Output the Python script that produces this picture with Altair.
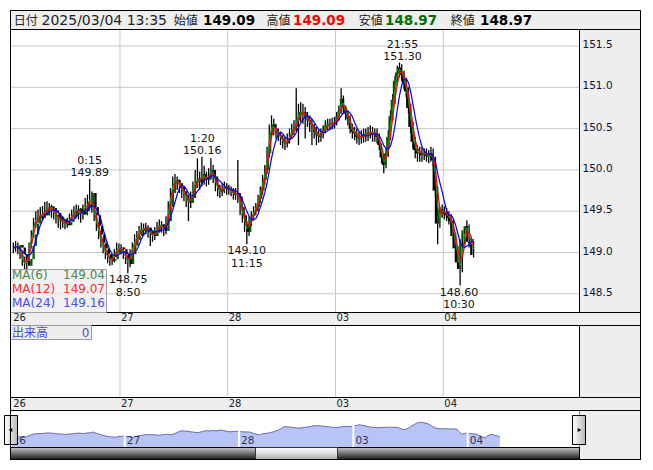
import altair as alt
import pandas as pd

W, H = 653, 470

# ---------------- data ----------------
# 30-minute USD/JPY bars; each trading day starts at 07:00 JST
day_labels = ["26", "27", "28", "03", "04"]
first_open = 149.06

close_26 = [149.05, 149.09, 149.06, 148.98, 148.90, 148.84, 148.92, 149.08, 149.22, 149.35, 149.44, 149.42,
            149.47, 149.45, 149.52, 149.56, 149.54, 149.51, 149.48, 149.43, 149.38, 149.40, 149.35, 149.33,
            149.37, 149.41, 149.46, 149.50, 149.53, 149.49, 149.46, 149.50, 149.58, 149.55, 149.72, 149.55,
            149.45, 149.32, 149.22, 149.12, 149.05, 148.98, 148.93, 148.90, 148.92, 148.99, 149.05, 149.06]
high_26 = [149.12, 149.14, 149.12, 149.08, 149.00, 148.95, 148.98, 149.12, 149.27, 149.42, 149.50, 149.52,
           149.55, 149.56, 149.61, 149.62, 149.60, 149.58, 149.55, 149.50, 149.46, 149.45, 149.44, 149.40,
           149.42, 149.47, 149.52, 149.56, 149.58, 149.57, 149.54, 149.58, 149.66, 149.70, 149.89, 149.74,
           149.58, 149.48, 149.36, 149.26, 149.16, 149.10, 149.02, 148.96, 148.97, 149.04, 149.12, 149.11]
low_26 = [148.99, 149.01, 148.98, 148.92, 148.84, 148.79, 148.80, 148.90, 149.05, 149.18, 149.30, 149.36,
          149.38, 149.40, 149.42, 149.47, 149.45, 149.42, 149.40, 149.35, 149.30, 149.28, 149.30, 149.28,
          149.30, 149.33, 149.38, 149.42, 149.44, 149.40, 149.36, 149.40, 149.46, 149.45, 149.52, 149.48,
          149.38, 149.26, 149.16, 149.06, 148.99, 148.92, 148.87, 148.84, 148.85, 148.88, 148.95, 149.00]

close_27 = [149.04, 148.98, 148.93, 148.86, 148.98, 149.08, 149.15, 149.20, 149.26, 149.30, 149.27, 149.30,
            149.26, 149.22, 149.20, 149.25, 149.30, 149.34, 149.31, 149.26, 149.38, 149.55, 149.72, 149.86,
            149.88, 149.84, 149.80, 149.74, 149.70, 149.64, 149.60, 149.66, 149.78, 149.86, 149.90, 149.85,
            149.95, 149.90, 149.88, 149.95, 150.00, 149.92, 149.82, 149.76, 149.74, 149.78, 149.80, 149.77]
high_27 = [149.10, 149.06, 149.00, 148.96, 149.04, 149.12, 149.22, 149.26, 149.32, 149.36, 149.35, 149.36,
           149.33, 149.30, 149.27, 149.31, 149.37, 149.40, 149.38, 149.34, 149.44, 149.62, 149.78, 149.92,
           149.95, 149.92, 149.88, 149.83, 149.78, 149.74, 149.68, 149.74, 149.86, 150.00, 150.14, 149.98,
           150.16, 150.05, 149.98, 150.02, 150.14, 150.06, 149.95, 149.86, 149.80, 149.84, 149.86, 149.84]
low_27 = [148.98, 148.92, 148.86, 148.75, 148.82, 148.94, 149.04, 149.10, 149.16, 149.22, 149.20, 149.22,
          149.18, 149.08, 149.13, 149.15, 149.20, 149.24, 149.24, 149.20, 149.22, 149.34, 149.50, 149.68,
          149.80, 149.76, 149.72, 149.66, 149.62, 149.55, 149.38, 149.54, 149.62, 149.72, 149.80, 149.76,
          149.80, 149.82, 149.80, 149.82, 149.90, 149.84, 149.74, 149.68, 149.66, 149.68, 149.72, 149.70]

close_28 = [149.76, 149.74, 149.70, 149.72, 149.68, 149.55, 149.45, 149.34, 149.25, 149.38, 149.45, 149.50,
            149.55, 149.65, 149.75, 149.88, 150.00, 150.20, 150.45, 150.55, 150.50, 150.45, 150.42, 150.38,
            150.33, 150.32, 150.36, 150.42, 150.48, 150.52, 150.60, 150.70, 150.68, 150.70, 150.64, 150.60,
            150.55, 150.52, 150.46, 150.42, 150.40, 150.44, 150.48, 150.54, 150.56, 150.55, 150.57, 150.58]
high_28 = [149.82, 149.80, 149.78, 149.78, 150.12, 149.72, 149.58, 149.48, 149.38, 149.44, 149.50, 149.56,
           149.60, 149.70, 149.80, 149.94, 150.06, 150.28, 150.55, 150.66, 150.62, 150.56, 150.50, 150.46,
           150.42, 150.40, 150.44, 150.50, 150.56, 150.60, 150.99, 150.80, 150.82, 150.80, 150.76, 150.70,
           150.66, 150.62, 150.56, 150.52, 150.48, 150.50, 150.54, 150.60, 150.62, 150.62, 150.63, 150.64]
low_28 = [149.70, 149.68, 149.64, 149.64, 149.60, 149.45, 149.36, 149.25, 149.10, 149.20, 149.32, 149.40,
          149.45, 149.50, 149.60, 149.70, 149.82, 149.95, 150.15, 150.40, 150.42, 150.38, 150.35, 150.30,
          150.26, 150.24, 150.27, 150.32, 150.38, 150.42, 150.46, 150.30, 150.58, 150.56, 150.38, 150.52,
          150.46, 150.30, 150.38, 150.30, 150.33, 150.34, 150.38, 150.44, 150.48, 150.48, 150.49, 150.50]

close_03 = [150.65, 150.72, 150.86, 150.75, 150.68, 150.62, 150.50, 150.46, 150.44, 150.40, 150.38, 150.40,
            150.43, 150.42, 150.45, 150.46, 150.43, 150.44, 150.40, 150.30, 150.15, 150.06, 150.20, 150.40,
            150.65, 150.85, 151.08, 151.18, 151.24, 151.15, 151.05, 150.95, 150.75, 150.52, 150.34, 150.24,
            150.20, 150.22, 150.18, 150.20, 150.17, 150.16, 150.20, 150.12, 149.75, 149.35, 149.48, 149.52]
high_03 = [150.70, 150.78, 150.99, 150.90, 150.78, 150.72, 150.66, 150.56, 150.52, 150.50, 150.46, 150.48,
           150.50, 150.50, 150.52, 150.54, 150.52, 150.50, 150.50, 150.44, 150.32, 150.20, 150.26, 150.48,
           150.72, 150.92, 151.14, 151.26, 151.30, 151.28, 151.20, 151.10, 151.00, 150.80, 150.58, 150.40,
           150.30, 150.28, 150.28, 150.26, 150.26, 150.24, 150.28, 150.26, 150.16, 149.80, 149.55, 149.58]
low_03 = [150.54, 150.60, 150.68, 150.68, 150.60, 150.54, 150.44, 150.38, 150.36, 150.32, 150.30, 150.32,
          150.33, 150.34, 150.35, 150.38, 150.34, 150.34, 150.32, 150.24, 150.08, 149.96, 150.02, 150.16,
          150.36, 150.60, 150.80, 151.02, 151.12, 151.08, 150.98, 150.88, 150.68, 150.44, 150.26, 150.14,
          150.10, 150.10, 150.10, 150.12, 150.10, 150.08, 150.10, 150.04, 149.68, 149.10, 149.30, 149.42]

close_04 = [149.48, 149.45, 149.42, 149.38, 149.20, 149.05, 148.88, 148.80, 149.16, 149.27, 149.32, 149.13,
            149.11, 148.97]
high_04 = [149.56, 149.54, 149.50, 149.46, 149.40, 149.24, 149.08, 148.92, 149.20, 149.32, 149.39, 149.34,
           149.18, 149.14]
low_04 = [149.40, 149.38, 149.34, 149.30, 149.14, 148.98, 148.82, 148.60, 148.76, 149.10, 149.20, 149.06,
          149.04, 148.94]

# moving averages; periods are 5-minute bars, windows are the 30-minute equivalents
ma_names = ["MA(6)", "MA(12)", "MA(24)"]
ma_bars = [2, 3, 6]

# labelled highs and lows: trading day index, clock time, price
ann_day = [0, 1, 2, 3, 1, 4]
ann_clock = ["0:15", "1:20", "11:15", "21:55", "8:50", "10:30"]
ann_price = [149.89, 150.16, 149.10, 151.30, 148.75, 148.60]
ann_side = ["high", "high", "low", "high", "low", "low"]

price_ticks = [148.5, 149.0, 149.5, 150.0, 150.5, 151.0, 151.5]

quote_stamp = "2025/03/04 13:35"
quote_names = ["始値", "高値", "安値", "終値"]
quote_values = [149.09, 149.09, 148.97, 148.97]
volume_name = "出来高"
volume_value = 0

# ---------------- styles ----------------
FONT = "DejaVu Sans"
CJK = "Noto Sans CJK JP"
ma_colors = ["#1a8c1a", "#ff0000", "#0000ff"]
ma_text_colors = ["#4d8a4d", "#ff2a2a", "#4b4bff"]
quote_colors = ["#000000", "#ff0000", "#007000", "#000000"]
GRID = "#c8c8c8"
PANEL = "#eeeeee"

# ---------------- layout (pixels) ----------------
LEFT, RIGHT, PLOT_R = 10.5, 640.5, 579.5
TOP, HEAD_B, MAIN_B, STRIP1_B = 10.5, 29.5, 312.5, 325.5
VOL_B, STRIP2_B, NAV_B, BOTTOM = 397.5, 410.5, 447.5, 459.5

DAY0_X, DAY_W = 12.2, 107.77          # main time axis
PX_H = DAY_W / 24
P_REF, P_REF_Y, PX_YEN = 151.0, 87.3, 82.6   # main price axis
NAV0_X, NAV_DAY_W = 10.5, 114.3       # navigator time axis
NPX_H = NAV_DAY_W / 24
NAV_BASE, NAV_PX_YEN = 147.28, 6.4    # navigator value axis

x_main = alt.Scale(domain=[-DAY0_X / PX_H, (W - DAY0_X) / PX_H], nice=False, zero=False)
y_price = alt.Scale(domain=[P_REF - (H - P_REF_Y) / PX_YEN, P_REF + P_REF_Y / PX_YEN], nice=False, zero=False)
x_nav = alt.Scale(domain=[-NAV0_X / NPX_H, (W - NAV0_X) / NPX_H], nice=False, zero=False)
y_nav = alt.Scale(domain=[NAV_BASE - (H - NAV_B) / NAV_PX_YEN, NAV_BASE + NAV_B / NAV_PX_YEN],
                  nice=False, zero=False)
x_px = alt.Scale(domain=[0, W], nice=False, zero=False)
y_px = alt.Scale(domain=[0, H], reverse=True, nice=False, zero=False)


def qx(field, scale):
    return alt.X(field, type="quantitative", scale=scale, axis=None)


def qy(field, scale):
    return alt.Y(field, type="quantitative", scale=scale, axis=None)


# ---------------- tables ----------------
closes = close_26 + close_27 + close_28 + close_03 + close_04
highs = high_26 + high_27 + high_28 + high_03 + high_04
lows = low_26 + low_27 + low_28 + low_03 + low_04
bars = pd.DataFrame({"i": range(len(closes)), "close": closes, "high": highs, "low": lows})
bars["open"] = [first_open] + closes[:-1]
bars["high"] = bars[["high", "open", "close"]].max(axis=1)
bars["low"] = bars[["low", "open", "close"]].min(axis=1)
bars["h"] = bars["i"] * 0.5 + 0.25
bars["dir"] = ["up" if c >= o else "down" for o, c in zip(bars["open"], bars["close"])]

ma_last = [bars["close"].rolling(n, min_periods=1).mean().iloc[-1] for n in ma_bars]


def clock_hours(day, clock):
    hh, mm = (int(v) for v in clock.split(":"))
    if hh < 7:
        hh += 24
    return day * 24 + hh - 7 + mm / 60


ann = pd.DataFrame({
    "h": [clock_hours(d, c) for d, c in zip(ann_day, ann_clock)],
    "price": ann_price,
    "label": [f"{p:.2f}" for p in ann_price],
    "clock": ann_clock,
    "side": ann_side,
})

days = pd.DataFrame({"h": [24.0 * k for k in range(len(day_labels))], "label": day_labels})
inner_days = days[days["h"] > 0]
ticks = pd.DataFrame({"v": price_ticks})
one = pd.DataFrame({"k": [0]})

# ---------------- frame ----------------
panels = pd.DataFrame([
    dict(x=LEFT, x2=PLOT_R, y=STRIP2_B, y2=NAV_B, fill="#ffffff", stroke="transparent"),
    dict(x=LEFT, x2=RIGHT, y=TOP, y2=HEAD_B, fill=PANEL, stroke="#333333"),
    dict(x=PLOT_R, x2=RIGHT, y=HEAD_B, y2=BOTTOM, fill=PANEL, stroke="#000000"),
    dict(x=LEFT, x2=PLOT_R, y=HEAD_B, y2=MAIN_B, fill="#ffffff", stroke="#000000"),
    dict(x=LEFT, x2=RIGHT, y=MAIN_B, y2=STRIP1_B, fill=PANEL, stroke="#000000"),
    dict(x=LEFT, x2=PLOT_R, y=STRIP1_B, y2=VOL_B, fill="#ffffff", stroke="#000000"),
    dict(x=LEFT, x2=RIGHT, y=VOL_B, y2=STRIP2_B, fill=PANEL, stroke="#000000"),
])
frame = alt.Chart(panels).mark_rect(strokeWidth=1).encode(
    x=qx("x", x_px), x2="x2", y=qy("y", y_px), y2="y2",
    fill=alt.Fill("fill:N", scale=None), stroke=alt.Stroke("stroke:N", scale=None),
)

grid_h = alt.Chart(ticks).mark_rule(color=GRID, strokeWidth=1).encode(
    y=qy("v", y_price), x=alt.value(LEFT + 0.5), x2=alt.value(PLOT_R - 0.5))
grid_v_main = alt.Chart(inner_days).mark_rule(color=GRID, strokeWidth=1).encode(
    x=qx("h", x_main), y=alt.value(HEAD_B + 0.5), y2=alt.value(MAIN_B - 0.5))
grid_v_vol = alt.Chart(inner_days).mark_rule(color=GRID, strokeWidth=1).encode(
    x=qx("h", x_main), y=alt.value(STRIP1_B + 0.5), y2=alt.value(VOL_B - 0.5))

# ---------------- candles and averages ----------------
wicks = alt.Chart(bars).mark_rule(color="#000000", strokeWidth=1.3).encode(
    x=qx("h", x_main), y=qy("low", y_price), y2="high")
bodies = alt.Chart(bars).mark_bar(size=2.3).encode(
    x=qx("h", x_main), y=qy("open", y_price), y2="close",
    fill=alt.Fill("dir:N", scale=alt.Scale(domain=["up", "down"], range=["#005c00", "#000000"]), legend=None),
)
ma_lines = [
    alt.Chart(bars).transform_window(
        ma="mean(close)", frame=[-(n - 1), 0], sort=[alt.SortField("i")]
    ).mark_line(color=c, strokeWidth=1.2).encode(x=qx("h", x_main), y=qy("ma:Q", y_price))
    for n, c in zip(ma_bars, ma_colors)
]

ann_text = dict(font=FONT, fontSize=11, color="#111111", align="center")
hi = alt.Chart(ann).transform_filter(alt.datum.side == "high")
lo = alt.Chart(ann).transform_filter(alt.datum.side == "low")
ann_layers = [
    hi.mark_text(baseline="alphabetic", dy=-2.5, **ann_text).encode(
        x=qx("h", x_main), y=qy("price", y_price), text="label:N"),
    hi.mark_text(baseline="alphabetic", dy=-15, **ann_text).encode(
        x=qx("h", x_main), y=qy("price", y_price), text="clock:N"),
    lo.mark_text(baseline="alphabetic", dy=10, **ann_text).encode(
        x=qx("h", x_main), y=qy("price", y_price), text="label:N"),
    lo.mark_text(baseline="alphabetic", dy=22.5, **ann_text).encode(
        x=qx("h", x_main), y=qy("price", y_price), text="clock:N"),
]

# ---------------- MA legend ----------------
legend = pd.DataFrame({
    "name": ma_names,
    "value": [f"{v:.2f}" for v in ma_last],
    "color": ma_text_colors,
    "row": [278.5, 292.5, 306.5],
})
legend_box = alt.Chart(one).mark_rect(fill="#eeeeee", fillOpacity=0.85, stroke="#a0a0a0", strokeWidth=1).encode(
    x=alt.value(LEFT), x2=alt.value(106.5), y=alt.value(269.5), y2=alt.value(MAIN_B))
legend_names = alt.Chart(legend).mark_text(font=FONT, fontSize=12, align="left", baseline="alphabetic").encode(
    x=alt.value(12), y=qy("row", y_px), text="name:N", color=alt.Color("color:N", scale=None))
legend_values = alt.Chart(legend).mark_text(font=FONT, fontSize=12, align="right", baseline="alphabetic").encode(
    x=alt.value(105), y=qy("row", y_px), text="value:N", color=alt.Color("color:N", scale=None))

# ---------------- axis labels ----------------
price_labels = alt.Chart(ticks).mark_text(
    font=FONT, fontSize=10.5, align="left", baseline="middle", color="#111133", dy=-1).encode(
    x=alt.value(PLOT_R + 3), y=qy("v", y_price), text=alt.Text("v:Q", format=".1f"))
strip1_labels = alt.Chart(days).mark_text(
    font=FONT, fontSize=10, align="left", baseline="alphabetic", color="#222222", dx=1).encode(
    x=qx("h", x_main), y=alt.value(321), text="label:N")
strip2_labels = alt.Chart(days).mark_text(
    font=FONT, fontSize=10, align="left", baseline="alphabetic", color="#222222", dx=1).encode(
    x=qx("h", x_main), y=alt.value(406.5), text="label:N")

# ---------------- quote header ----------------
header_names = pd.DataFrame({"x": [13.8, 173.7, 266.6, 358.7, 450.8], "text": ["日付"] + quote_names})
header_values = pd.DataFrame({
    "x": [203.0, 293.0, 385.0, 480.0],
    "text": [f"{v:.2f}" for v in quote_values],
    "color": quote_colors,
})
head_cjk = alt.Chart(header_names).mark_text(
    font=CJK, fontSize=12, align="left", baseline="alphabetic", color="#222222").encode(
    x=qx("x", x_px), y=alt.value(24.5), text="text:N")
head_stamp = alt.Chart(one).mark_text(
    font=FONT, fontSize=14, align="left", baseline="alphabetic", color="#222222", text=quote_stamp).encode(
    x=alt.value(41.5), y=alt.value(24.5))
head_values = alt.Chart(header_values).mark_text(
    font=FONT, fontSize=13.5, fontWeight="bold", align="left", baseline="alphabetic").encode(
    x=qx("x", x_px), y=alt.value(24.5), text="text:N", color=alt.Color("color:N", scale=None))

# ---------------- volume panel label ----------------
vol_box = alt.Chart(one).mark_rect(fill="#eeeeee", stroke="#999999", strokeWidth=1).encode(
    x=alt.value(LEFT), x2=alt.value(91.5), y=alt.value(STRIP1_B), y2=alt.value(339.5))
vol_name = alt.Chart(one).mark_text(
    font=CJK, fontSize=12, align="left", baseline="alphabetic", color="#4a4ac8", text=volume_name).encode(
    x=alt.value(12), y=alt.value(336.5))
vol_value = alt.Chart(one).mark_text(
    font=FONT, fontSize=12, align="right", baseline="alphabetic", color="#4a4ac8", text=str(volume_value)).encode(
    x=alt.value(89.5), y=alt.value(336.5))

# ---------------- navigator ----------------
nav_area = alt.Chart(bars).mark_area(color="#b7c4f5").encode(
    x=qx("h", x_nav), y=qy("close", y_nav), y2=alt.Y2Datum(NAV_BASE))
nav_line = alt.Chart(bars).mark_line(color="#6a6ab0", strokeWidth=1).encode(
    x=qx("h", x_nav), y=qy("close", y_nav))
nav_sep = alt.Chart(inner_days).mark_rule(color="#ffffff", strokeWidth=2).encode(
    x=qx("h", x_nav), y=alt.value(STRIP2_B + 1), y2=alt.value(NAV_B - 0.5))
nav_labels = alt.Chart(days).mark_text(
    font=FONT, fontSize=10.5, align="left", baseline="alphabetic", color="#333355", dx=2).encode(
    x=qx("h", x_nav), y=alt.value(443.5), text="label:N")
nav_edges = alt.Chart(pd.DataFrame({"x": [LEFT, PLOT_R]})).mark_rule(color="#29a3d9", strokeWidth=1).encode(
    x=qx("x", x_px), y=alt.value(STRIP2_B + 0.5), y2=alt.value(NAV_B))

track_fill = alt.LinearGradient(
    gradient="linear", x1=0, x2=0, y1=0, y2=1,
    stops=[alt.GradientStop(color="#c8c8c8", offset=0), alt.GradientStop(color="#6e6e6e", offset=0.5),
           alt.GradientStop(color="#1a1a1a", offset=1)])
thumb_fill = alt.LinearGradient(
    gradient="linear", x1=0, x2=0, y1=0, y2=1,
    stops=[alt.GradientStop(color="#ffffff", offset=0), alt.GradientStop(color="#dcdcdc", offset=0.5),
           alt.GradientStop(color="#a8a8a8", offset=1)])
button_fill = alt.LinearGradient(
    gradient="linear", x1=0, x2=1, y1=0, y2=0,
    stops=[alt.GradientStop(color="#ffffff", offset=0), alt.GradientStop(color="#b8b8b8", offset=1)])

track = alt.Chart(one).mark_rect(fill=track_fill, stroke="#000000", strokeWidth=1).encode(
    x=alt.value(LEFT), x2=alt.value(PLOT_R), y=alt.value(NAV_B), y2=alt.value(BOTTOM))
thumb = alt.Chart(one).mark_rect(fill=thumb_fill, stroke="#333333", strokeWidth=1).encode(
    x=alt.value(255.5), x2=alt.value(337.5), y=alt.value(NAV_B), y2=alt.value(BOTTOM))
btn_left = alt.Chart(one).mark_rect(fill=button_fill, stroke="#000000", strokeWidth=1).encode(
    x=alt.value(4.5), x2=alt.value(17.5), y=alt.value(415.5), y2=alt.value(444.5))
btn_right = alt.Chart(one).mark_rect(fill=button_fill, stroke="#000000", strokeWidth=1).encode(
    x=alt.value(572.5), x2=alt.value(585.5), y=alt.value(415.5), y2=alt.value(444.5))
arrow_left = alt.Chart(one).mark_point(shape="triangle-left", filled=True, size=18, color="#000000", opacity=1).encode(
    x=alt.value(10.5), y=alt.value(430))
arrow_right = alt.Chart(one).mark_point(shape="triangle-right", filled=True, size=18, color="#000000", opacity=1).encode(
    x=alt.value(579.5), y=alt.value(430))

outline = alt.Chart(one).mark_rect(fill="transparent", stroke="#000000", strokeWidth=1).encode(
    x=alt.value(LEFT), x2=alt.value(RIGHT), y=alt.value(TOP), y2=alt.value(BOTTOM))

chart = alt.layer(
    frame, grid_h, grid_v_main, grid_v_vol,
    wicks, bodies, *ma_lines, *ann_layers,
    legend_box, legend_names, legend_values,
    price_labels, strip1_labels, strip2_labels,
    head_cjk, head_stamp, head_values,
    vol_box, vol_name, vol_value,
    nav_area, nav_line, nav_sep, nav_labels, nav_edges,
    track, thumb, btn_left, btn_right, arrow_left, arrow_right,
    outline,
).resolve_scale(
    x="independent", y="independent", fill="independent", color="independent", stroke="independent"
).properties(
    width=W, height=H, padding=0, autosize=alt.AutoSizeParams(type="none")
).configure_view(stroke=None)

chart.save("out.html", embed_options={"renderer": "svg", "actions": False})
